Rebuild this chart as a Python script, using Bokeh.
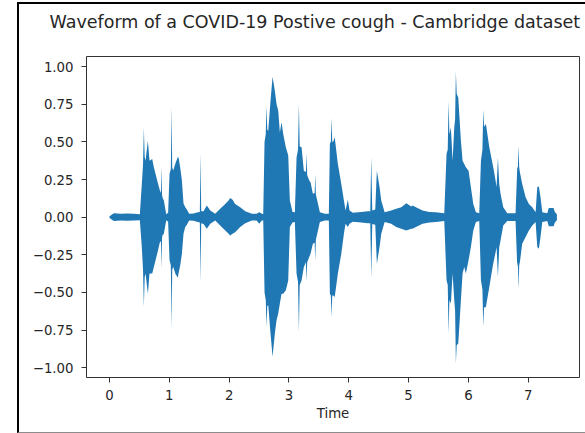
from bokeh.plotting import figure
from bokeh.models import (ColumnDataSource, FixedTicker, CustomJSTickFormatter,
                          Range1d, InlineStyleSheet)
from bokeh.embed import file_html
from bokeh.resources import INLINE

# ---- data (time in s, envelope upper / lower) ----
time_s = [0.000, 0.072, 0.184, 0.296, 0.407, 0.507, 0.540, 0.560, 0.574, 0.588,
          0.602, 0.641, 0.669, 0.714, 0.741, 0.797, 0.842, 0.860, 0.870, 0.878,
          0.886, 0.908, 0.948, 0.980, 1.003, 1.025, 1.037, 1.048, 1.065, 1.104,
          1.142, 1.154, 1.182, 1.210, 1.237, 1.266, 1.293, 1.332, 1.405, 1.477,
          1.510, 1.522, 1.533, 1.572, 1.627, 1.684, 1.767, 1.850, 1.935, 1.990,
          2.018, 2.057, 2.100, 2.185, 2.269, 2.380, 2.458, 2.503, 2.542, 2.570,
          2.592, 2.612, 2.625, 2.638, 2.654, 2.692, 2.726, 2.764, 2.793, 2.821,
          2.848, 2.876, 2.904, 2.948, 2.988, 3.015, 3.060, 3.099, 3.127, 3.152,
          3.166, 3.180, 3.211, 3.249, 3.284, 3.294, 3.305, 3.339, 3.361, 3.400,
          3.430, 3.440, 3.450, 3.473, 3.517, 3.600, 3.667, 3.684, 3.700, 3.712,
          3.724, 3.740, 3.765, 3.818, 3.875, 3.919, 3.946, 3.985, 4.013, 4.069,
          4.208, 4.320, 4.360, 4.376, 4.393, 4.443, 4.470, 4.515, 4.543, 4.600,
          4.710, 4.794, 4.878, 4.962, 5.045, 5.067, 5.123, 5.234, 5.346, 5.457,
          5.597, 5.635, 5.655, 5.669, 5.683, 5.708, 5.736, 5.764, 5.778, 5.791,
          5.805, 5.831, 5.875, 5.903, 5.931, 5.958, 6.003, 6.042, 6.082, 6.126,
          6.182, 6.210, 6.235, 6.249, 6.262, 6.293, 6.350, 6.405, 6.427, 6.472,
          6.494, 6.516, 6.538, 6.583, 6.650, 6.789, 6.817, 6.828, 6.839, 6.850,
          6.861, 6.900, 6.957, 7.012, 7.068, 7.124, 7.152, 7.179, 7.206, 7.236,
          7.319, 7.344, 7.384, 7.425, 7.446, 7.480]

upper = [0.006, 0.026, 0.022, 0.024, 0.022, 0.020, 0.220, 0.350, 0.596, 0.400,
         0.375, 0.508, 0.375, 0.386, 0.331, 0.243, 0.177, 0.160, 0.336, 0.150,
         0.130, 0.110, 0.020, 0.030, 0.287, 0.320, 0.733, 0.330, 0.310, 0.360,
         0.400, 0.397, 0.330, 0.243, 0.090, 0.066, 0.050, 0.022, 0.024, 0.033,
         0.035, 0.424, 0.040, 0.040, 0.077, 0.044, 0.022, 0.055, 0.088, 0.110,
         0.128, 0.115, 0.088, 0.066, 0.040, 0.022, 0.022, 0.033, 0.024, 0.020,
         0.500, 0.550, 0.740, 0.580, 0.574, 0.773, 0.932, 0.839, 0.750, 0.706,
         0.563, 0.630, 0.552, 0.464, 0.409, 0.110, 0.035, 0.033, 0.397, 0.450,
         0.755, 0.470, 0.464, 0.309, 0.300, 0.424, 0.280, 0.243, 0.232, 0.155,
         0.160, 0.287, 0.150, 0.110, 0.033, 0.022, 0.022, 0.486, 0.500, 0.658,
         0.500, 0.500, 0.530, 0.353, 0.221, 0.110, 0.044, 0.115, 0.044, 0.030,
         0.035, 0.040, 0.040, 0.400, 0.045, 0.050, 0.309, 0.199, 0.110, 0.033,
         0.044, 0.055, 0.066, 0.093, 0.070, 0.077, 0.066, 0.044, 0.035, 0.033,
         0.026, 0.419, 0.450, 0.768, 0.550, 0.596, 0.375, 0.596, 0.650, 0.967,
         0.820, 0.795, 0.508, 0.375, 0.353, 0.331, 0.309, 0.199, 0.088, 0.033,
         0.026, 0.375, 0.450, 0.717, 0.600, 0.618, 0.464, 0.353, 0.309, 0.200,
         0.397, 0.220, 0.155, 0.066, 0.026, 0.026, 0.330, 0.330, 0.475, 0.330,
         0.300, 0.221, 0.132, 0.088, 0.066, 0.033, 0.199, 0.203, 0.132, 0.033,
         0.026, 0.060, 0.060, 0.060, 0.035, 0.020]

lower = [-0.006, -0.026, -0.022, -0.024, -0.022, -0.020, -0.200, -0.350, -0.596, -0.400,
         -0.375, -0.508, -0.375, -0.375, -0.331, -0.243, -0.166, -0.160, -0.342, -0.140,
         -0.120, -0.110, -0.020, -0.030, -0.287, -0.320, -0.740, -0.350, -0.330, -0.380,
         -0.400, -0.375, -0.320, -0.243, -0.110, -0.066, -0.050, -0.022, -0.024, -0.033,
         -0.035, -0.430, -0.040, -0.045, -0.077, -0.044, -0.022, -0.055, -0.088, -0.110,
         -0.122, -0.110, -0.100, -0.066, -0.040, -0.022, -0.022, -0.044, -0.024, -0.020,
         -0.500, -0.550, -0.728, -0.590, -0.585, -0.773, -0.927, -0.773, -0.684, -0.640,
         -0.574, -0.508, -0.508, -0.486, -0.420, -0.066, -0.035, -0.033, -0.375, -0.430,
         -0.762, -0.450, -0.420, -0.331, -0.300, -0.430, -0.300, -0.265, -0.243, -0.177,
         -0.170, -0.287, -0.150, -0.110, -0.033, -0.022, -0.022, -0.508, -0.520, -0.662,
         -0.520, -0.520, -0.530, -0.375, -0.243, -0.110, -0.044, -0.066, -0.044, -0.030,
         -0.035, -0.040, -0.040, -0.408, -0.045, -0.050, -0.309, -0.199, -0.110, -0.033,
         -0.044, -0.066, -0.077, -0.088, -0.077, -0.077, -0.066, -0.044, -0.035, -0.033,
         -0.026, -0.419, -0.450, -0.773, -0.550, -0.574, -0.375, -0.552, -0.620, -0.971,
         -0.850, -0.839, -0.552, -0.375, -0.331, -0.375, -0.287, -0.199, -0.088, -0.033,
         -0.026, -0.419, -0.480, -0.728, -0.600, -0.596, -0.464, -0.331, -0.287, -0.200,
         -0.397, -0.200, -0.155, -0.055, -0.026, -0.026, -0.331, -0.300, -0.480, -0.320,
         -0.300, -0.177, -0.132, -0.088, -0.055, -0.033, -0.199, -0.210, -0.132, -0.033,
         -0.026, -0.060, -0.060, -0.060, -0.035, -0.020]

x_ticks = [0, 1, 2, 3, 4, 5, 6, 7]
y_ticks = [-1.0, -0.75, -0.5, -0.25, 0.0, 0.25, 0.5, 0.75, 1.0]
title_text = "Waveform of a COVID-19 Postive cough - Cambridge dataset"
x_label = "Time"

FONT = "DejaVu Sans"
BLUE = "#1f77b4"

# border of the captured output cell (drawn with CSS around the plot)
frame_css = InlineStyleSheet(css="""
:host { position: relative; }
:host::after {
  content: ""; position: absolute; left: 17px; top: 2px;
  width: 566px; height: 428px;
  border-left: 2px solid #000; border-top: 2px solid #000;
  border-bottom: 1px solid #8c8c8c;
  pointer-events: none; z-index: 5;
}
""")

src = ColumnDataSource(dict(t=time_s, up=upper, lo=lower))

p = figure(width=585, height=433, output_backend="svg", toolbar_location=None,
           x_range=Range1d(-0.385, 7.858), y_range=Range1d(-1.065, 1.067),
           min_border_left=86, min_border_right=6, min_border_top=56,
           min_border_bottom=56, stylesheets=[frame_css])
p.background_fill_color = "white"
p.border_fill_color = "white"
p.grid.visible = False
p.outline_line_color = "#333333"
p.outline_line_width = 1
p.outline_line_alpha = 1.0

p.varea(x="t", y1="lo", y2="up", source=src, fill_color=BLUE)

for ax in (p.xaxis[0], p.yaxis[0]):
    ax.axis_line_color = None
    ax.major_tick_line_color = "#333333"
    ax.major_tick_out = 5
    ax.major_tick_in = 0
    ax.minor_tick_line_color = None
    ax.major_label_text_font = FONT
    ax.major_label_text_font_size = "13.3px"
    ax.major_label_text_color = "#262626"

p.xaxis.ticker = FixedTicker(ticks=x_ticks)
p.yaxis.ticker = FixedTicker(ticks=y_ticks)
p.yaxis.formatter = CustomJSTickFormatter(
    code="return (tick < 0 ? '\u2212' : '') + Math.abs(tick).toFixed(2);")
p.xaxis.major_label_standoff = 7
p.yaxis.major_label_standoff = 8
p.xaxis.axis_label = x_label
p.xaxis.axis_label_text_font = FONT
p.xaxis.axis_label_text_font_size = "13.3px"
p.xaxis.axis_label_text_font_style = "normal"
p.xaxis.axis_label_text_color = "#262626"
p.xaxis.axis_label_standoff = 3

# the trailing empty line lifts the title towards the top of the canvas
p.title.text = title_text + "\n"
p.title.align = "left"
p.title.offset = -37
p.title.text_font = FONT
p.title.text_font_size = "17.5px"
p.title.text_font_style = "normal"
p.title.text_color = "#262626"
p.title.vertical_align = "bottom"
p.title.standoff = 10

open("out.html", "w").write(file_html(p, INLINE))
